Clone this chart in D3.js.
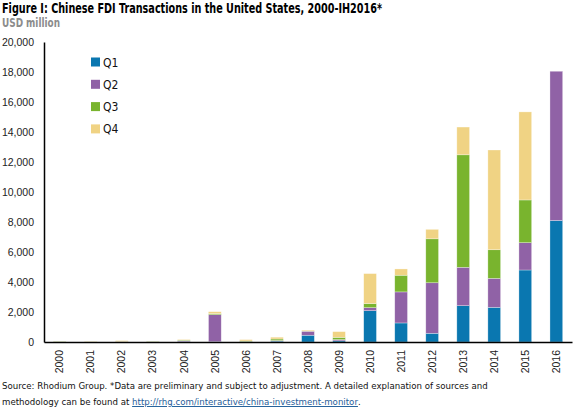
<!DOCTYPE html>
<html><head><meta charset="utf-8">
<script src="https://cdn.jsdelivr.net/npm/d3@7"></script>
<style>
body{margin:0;background:#fff;}
svg{display:block;font-family:"DejaVu Sans Condensed","DejaVu Sans",sans-serif;font-stretch:condensed;}
</style></head>
<body><svg id="c" width="580" height="414"></svg>
<script>
const years = ["2000","2001","2002","2003","2004","2005","2006","2007","2008","2009","2010","2011","2012","2013","2014","2015","2016"];
const seriesNames = ["Q1","Q2","Q3","Q4"];
const q1 = [10, 0, 10, 10, 30, 20, 10, 60, 450, 80, 2090, 1270, 580, 2420, 2310, 4800, 8100];
const q2 = [10, 0, 10, 10, 60, 1800, 20, 40, 270, 80, 200, 2070, 3370, 2560, 1930, 1820, 9950];
const q3 = [30, 10, 10, 30, 40, 70, 40, 100, 10, 150, 270, 1110, 2930, 7500, 1910, 2850, 0];
const q4 = [10, 30, 60, 10, 40, 130, 90, 120, 60, 380, 2000, 420, 630, 1850, 6650, 5870, 0];
const yTicks = [0,2000,4000,6000,8000,10000,12000,14000,16000,18000,20000];
const colors = ["#0a77b0","#9062a6","#79b42e","#f0d384"];

const rows = years.map((y,i)=>({year:y,Q1:q1[i],Q2:q2[i],Q3:q3[i],Q4:q4[i]}));
const svg = d3.select("#c");
const x = d3.scaleBand().domain(years).range([44,572]).paddingInner(0.59).paddingOuter(0.3);
const y = d3.scaleLinear().domain([0,20000]).range([342,42]);
const color = d3.scaleOrdinal().domain(seriesNames).range(colors);

const stack = d3.stack().keys(seriesNames)(rows);
svg.append("g").selectAll("g").data(stack).join("g")
  .attr("fill", d=>color(d.key))
  .selectAll("rect").data(d=>d).join("rect")
  .attr("x", d=>x(d.data.year))
  .attr("width", x.bandwidth())
  .attr("y", d=>y(d[1]))
  .attr("height", d=>Math.max(0, y(d[0])-y(d[1])))
  .attr("stroke","rgba(255,255,255,0.5)").attr("stroke-width",0.6);

// y axis
const ya = svg.append("g").attr("transform","translate(44,0)")
  .call(d3.axisLeft(y).tickValues(yTicks).tickSize(0).tickPadding(10).tickFormat(d3.format(",")));
ya.select(".domain").attr("stroke","#000").attr("stroke-width",1.5);
ya.selectAll("text").attr("font-size",10.5).attr("fill","#222").attr("font-family",null);

// x axis
const xa = svg.append("g").attr("transform","translate(0,342)")
  .call(d3.axisBottom(x).tickSize(0).tickSizeOuter(0));
xa.select(".domain").attr("stroke","#000").attr("stroke-width",1.5);
xa.selectAll("text").attr("font-size",10.5).attr("fill","#222").attr("font-family",null)
  .attr("transform","rotate(-90)").attr("text-anchor","end").attr("dy","0.35em").attr("x",-8).attr("y",0);

// legend
const lg = svg.append("g");
seriesNames.forEach((s,i)=>{
  const g = lg.append("g").attr("transform",`translate(91,${57.5+i*22.3})`);
  g.append("rect").attr("width",9).attr("height",9).attr("fill",color(s));
  g.append("text").attr("x",12).attr("y",9).attr("font-size",12).attr("fill","#111").text(s);
});

// title
svg.append("text").attr("x",2).attr("y",13).attr("font-size",13.5).attr("font-weight","bold").attr("fill","#000")
  .attr("textLength",380).attr("lengthAdjust","spacingAndGlyphs")
  .text("Figure I: Chinese FDI Transactions in the United States, 2000-IH2016*");
svg.append("text").attr("x",2).attr("y",27).attr("font-size",12).attr("font-weight","bold").attr("fill","#8c8c8c")
  .attr("textLength",58).attr("lengthAdjust","spacingAndGlyphs")
  .text("USD million");

// footer
const line1 = svg.append("text").attr("x",2).attr("y",389).attr("font-size",11.5).attr("fill","#111")
  .text("Source: Rhodium Group. *Data are preliminary and subject to adjustment. A detailed explanation of sources and");
const w1 = line1.node().getComputedTextLength();
const fs = Math.min(12, 11.5 * 486 / w1);
line1.attr("font-size", fs);
let cx = 2;
const parts = [["methodology can be found at\u00a0", "#111", null], ["http://rhg.com/interactive/china-investment-monitor", "#1f5d99", "underline"], [".", "#111", null]];
parts.forEach(p=>{
  const t = svg.append("text").attr("x",cx).attr("y",405).attr("font-size",fs).attr("fill",p[1]).text(p[0]);
  if (p[2]) t.attr("text-decoration",p[2]);
  cx += t.node().getComputedTextLength();
});
</script></body></html>
